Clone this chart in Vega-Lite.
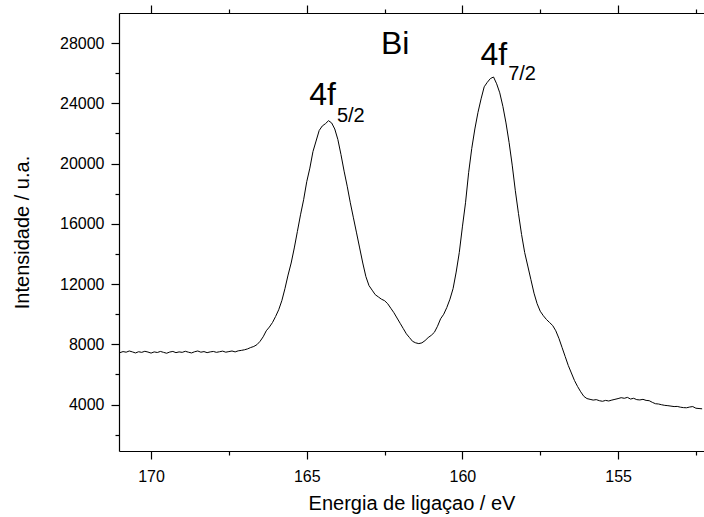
{
  "$schema": "https://vega.github.io/schema/vega-lite/v6.json",
  "width": 585,
  "height": 438,
  "autosize": {"type": "none"},
  "padding": {"left": 119, "top": 13, "right": 0, "bottom": 66},
  "background": "white",
  "config": {
    "view": {"stroke": null},
    "font": "Liberation Sans",
    "axis": {
      "domainColor": "black",
      "domainWidth": 1.2,
      "tickColor": "black",
      "tickWidth": 1.2,
      "grid": false,
      "labelColor": "black",
      "titleColor": "black",
      "labelFont": "Liberation Sans",
      "titleFont": "Liberation Sans",
      "labelFontSize": 16,
      "titleFontSize": 20,
      "titleFontWeight": "normal"
    }
  },
  "datasets": {
    "spectrum": [
      {"e": 171.0, "i": 7450}, {"e": 170.9, "i": 7520}, {"e": 170.8, "i": 7480}, {"e": 170.7, "i": 7560},
      {"e": 170.6, "i": 7500}, {"e": 170.5, "i": 7430}, {"e": 170.4, "i": 7510}, {"e": 170.3, "i": 7470},
      {"e": 170.2, "i": 7540}, {"e": 170.1, "i": 7490}, {"e": 170.0, "i": 7420}, {"e": 169.9, "i": 7500},
      {"e": 169.8, "i": 7460}, {"e": 169.7, "i": 7530}, {"e": 169.6, "i": 7470}, {"e": 169.5, "i": 7410},
      {"e": 169.4, "i": 7490}, {"e": 169.3, "i": 7530}, {"e": 169.2, "i": 7450}, {"e": 169.1, "i": 7500},
      {"e": 169.0, "i": 7470}, {"e": 168.9, "i": 7540}, {"e": 168.8, "i": 7480}, {"e": 168.7, "i": 7430},
      {"e": 168.6, "i": 7510}, {"e": 168.5, "i": 7560}, {"e": 168.4, "i": 7480}, {"e": 168.3, "i": 7520},
      {"e": 168.2, "i": 7450}, {"e": 168.1, "i": 7500}, {"e": 168.0, "i": 7530}, {"e": 167.9, "i": 7470},
      {"e": 167.8, "i": 7510}, {"e": 167.7, "i": 7550}, {"e": 167.6, "i": 7480}, {"e": 167.5, "i": 7520},
      {"e": 167.4, "i": 7560}, {"e": 167.3, "i": 7500}, {"e": 167.2, "i": 7570}, {"e": 167.1, "i": 7600},
      {"e": 167.0, "i": 7640}, {"e": 166.9, "i": 7700}, {"e": 166.8, "i": 7790}, {"e": 166.7, "i": 7860},
      {"e": 166.6, "i": 7980}, {"e": 166.5, "i": 8200}, {"e": 166.4, "i": 8500}, {"e": 166.3, "i": 8900},
      {"e": 166.2, "i": 9150}, {"e": 166.1, "i": 9450}, {"e": 166.0, "i": 9850}, {"e": 165.9, "i": 10300},
      {"e": 165.8, "i": 10900}, {"e": 165.7, "i": 11700}, {"e": 165.6, "i": 12600}, {"e": 165.5, "i": 13400},
      {"e": 165.4, "i": 14400}, {"e": 165.3, "i": 15500}, {"e": 165.2, "i": 16600}, {"e": 165.1, "i": 17600},
      {"e": 165.0, "i": 18800}, {"e": 164.9, "i": 19700}, {"e": 164.8, "i": 20800}, {"e": 164.7, "i": 21500},
      {"e": 164.6, "i": 22200}, {"e": 164.5, "i": 22500}, {"e": 164.4, "i": 22650}, {"e": 164.3, "i": 22850},
      {"e": 164.2, "i": 22700}, {"e": 164.1, "i": 22300}, {"e": 164.0, "i": 21600}, {"e": 163.9, "i": 20600},
      {"e": 163.8, "i": 19500}, {"e": 163.7, "i": 18500}, {"e": 163.6, "i": 17400}, {"e": 163.5, "i": 16400},
      {"e": 163.4, "i": 15400}, {"e": 163.3, "i": 14400}, {"e": 163.2, "i": 13400}, {"e": 163.1, "i": 12500},
      {"e": 163.0, "i": 11900}, {"e": 162.9, "i": 11600}, {"e": 162.8, "i": 11300}, {"e": 162.7, "i": 11150},
      {"e": 162.6, "i": 11000}, {"e": 162.5, "i": 10900}, {"e": 162.4, "i": 10700}, {"e": 162.3, "i": 10400},
      {"e": 162.2, "i": 10100}, {"e": 162.1, "i": 9750}, {"e": 162.0, "i": 9400}, {"e": 161.9, "i": 9050},
      {"e": 161.8, "i": 8700}, {"e": 161.7, "i": 8450}, {"e": 161.6, "i": 8200}, {"e": 161.5, "i": 8100},
      {"e": 161.4, "i": 8050}, {"e": 161.3, "i": 8100}, {"e": 161.2, "i": 8250}, {"e": 161.1, "i": 8450},
      {"e": 161.0, "i": 8600}, {"e": 160.9, "i": 8800}, {"e": 160.8, "i": 9200}, {"e": 160.7, "i": 9700},
      {"e": 160.6, "i": 10000}, {"e": 160.5, "i": 10450}, {"e": 160.4, "i": 11000}, {"e": 160.3, "i": 11700},
      {"e": 160.2, "i": 12800}, {"e": 160.1, "i": 14100}, {"e": 160.0, "i": 15800}, {"e": 159.9, "i": 17400},
      {"e": 159.8, "i": 19400}, {"e": 159.7, "i": 21000}, {"e": 159.6, "i": 22300}, {"e": 159.5, "i": 23400},
      {"e": 159.4, "i": 24300}, {"e": 159.3, "i": 25100}, {"e": 159.2, "i": 25400}, {"e": 159.1, "i": 25650},
      {"e": 159.0, "i": 25750}, {"e": 158.9, "i": 25300}, {"e": 158.8, "i": 24700}, {"e": 158.7, "i": 23800},
      {"e": 158.6, "i": 22700}, {"e": 158.5, "i": 21400}, {"e": 158.4, "i": 19900}, {"e": 158.3, "i": 18200},
      {"e": 158.2, "i": 16700}, {"e": 158.1, "i": 15300}, {"e": 158.0, "i": 14100}, {"e": 157.9, "i": 13200},
      {"e": 157.8, "i": 12300}, {"e": 157.7, "i": 11400}, {"e": 157.6, "i": 10700}, {"e": 157.5, "i": 10200},
      {"e": 157.4, "i": 9900}, {"e": 157.3, "i": 9650}, {"e": 157.2, "i": 9450}, {"e": 157.1, "i": 9250},
      {"e": 157.0, "i": 8900}, {"e": 156.9, "i": 8400}, {"e": 156.8, "i": 7800}, {"e": 156.7, "i": 7200},
      {"e": 156.6, "i": 6600}, {"e": 156.5, "i": 6100}, {"e": 156.4, "i": 5600}, {"e": 156.3, "i": 5200},
      {"e": 156.2, "i": 4850}, {"e": 156.1, "i": 4550}, {"e": 156.0, "i": 4400}, {"e": 155.9, "i": 4350},
      {"e": 155.8, "i": 4300}, {"e": 155.7, "i": 4330}, {"e": 155.6, "i": 4260}, {"e": 155.5, "i": 4220},
      {"e": 155.4, "i": 4280}, {"e": 155.3, "i": 4240}, {"e": 155.2, "i": 4300}, {"e": 155.1, "i": 4350},
      {"e": 155.0, "i": 4400}, {"e": 154.9, "i": 4460}, {"e": 154.8, "i": 4420}, {"e": 154.7, "i": 4480},
      {"e": 154.6, "i": 4370}, {"e": 154.5, "i": 4420}, {"e": 154.4, "i": 4330}, {"e": 154.3, "i": 4310},
      {"e": 154.2, "i": 4350}, {"e": 154.1, "i": 4280}, {"e": 154.0, "i": 4260}, {"e": 153.9, "i": 4150},
      {"e": 153.8, "i": 4060}, {"e": 153.7, "i": 4040}, {"e": 153.6, "i": 3990}, {"e": 153.5, "i": 3950},
      {"e": 153.4, "i": 3930}, {"e": 153.3, "i": 3900}, {"e": 153.2, "i": 3870}, {"e": 153.1, "i": 3880},
      {"e": 153.0, "i": 3830}, {"e": 152.9, "i": 3800}, {"e": 152.8, "i": 3790}, {"e": 152.7, "i": 3840},
      {"e": 152.6, "i": 3870}, {"e": 152.5, "i": 3760}, {"e": 152.4, "i": 3740}, {"e": 152.3, "i": 3720}
    ],
    "labels": [
      {"e": 162.16, "i": 27256, "text": "Bi"}
    ],
    "orbitals": [
      {"e": 164.06, "i": 23867, "text": "4f"},
      {"e": 158.56, "i": 26525, "text": "4f"}
    ],
    "subscripts": [
      {"e": 164.03, "i": 22737, "text": "5/2"},
      {"e": 158.53, "i": 25528, "text": "7/2"}
    ]
  },
  "resolve": {"axis": {"x": "independent", "y": "independent"}},
  "layer": [
    {
      "data": {"name": "spectrum"},
      "mark": {"type": "line", "color": "black", "strokeWidth": 1, "clip": true},
      "encoding": {
        "x": {
          "field": "e", "type": "quantitative",
          "scale": {"domain": [152.24, 171.03], "reverse": true, "nice": false, "zero": false},
          "axis": {
            "orient": "bottom",
            "title": "Energia de ligaçao / eV",
            "values": [170, 167.5, 165, 162.5, 160, 157.5, 155, 152.5],
            "labelExpr": "datum.value % 5 === 0 ? datum.label : ''",
            "format": "d",
            "tickSize": {"condition": {"test": "datum.value % 5 === 0", "value": 8}, "value": 4},
            "labelPadding": 9,
            "titlePadding": 9
          }
        },
        "y": {
          "field": "i", "type": "quantitative",
          "scale": {"domain": [920, 30000], "nice": false, "zero": false},
          "axis": {
            "orient": "left",
            "title": "Intensidade / u.a.",
            "values": [2000, 4000, 6000, 8000, 10000, 12000, 14000, 16000, 18000, 20000, 22000, 24000, 26000, 28000],
            "labelExpr": "datum.value % 4000 === 0 ? datum.label : ''",
            "format": "d",
            "tickSize": {"condition": {"test": "datum.value % 4000 === 0", "value": 8}, "value": 4},
            "labelPadding": 7,
            "titlePadding": 27
          }
        }
      }
    },
    {
      "data": {"name": "spectrum"},
      "mark": {"type": "line", "opacity": 0},
      "encoding": {
        "x": {
          "field": "e", "type": "quantitative",
          "axis": {
            "orient": "top",
            "title": null,
            "labels": false,
            "values": [170, 167.5, 165, 162.5, 160, 157.5, 155, 152.5],
            "tickSize": {"condition": {"test": "datum.value % 5 === 0", "value": 8}, "value": 4}
          }
        },
        "y": {"field": "i", "type": "quantitative", "axis": null}
      }
    },
    {
      "data": {"name": "labels"},
      "mark": {"type": "text", "fontSize": 32, "align": "center", "baseline": "alphabetic", "color": "black", "font": "Liberation Sans"},
      "encoding": {
        "x": {"field": "e", "type": "quantitative", "axis": null},
        "y": {"field": "i", "type": "quantitative", "axis": null},
        "text": {"field": "text"}
      }
    },
    {
      "data": {"name": "orbitals"},
      "mark": {"type": "text", "fontSize": 32, "align": "right", "baseline": "alphabetic", "color": "black", "font": "Liberation Sans"},
      "encoding": {
        "x": {"field": "e", "type": "quantitative", "axis": null},
        "y": {"field": "i", "type": "quantitative", "axis": null},
        "text": {"field": "text"}
      }
    },
    {
      "data": {"name": "subscripts"},
      "mark": {"type": "text", "fontSize": 20, "align": "left", "baseline": "alphabetic", "color": "black", "font": "Liberation Sans"},
      "encoding": {
        "x": {"field": "e", "type": "quantitative", "axis": null},
        "y": {"field": "i", "type": "quantitative", "axis": null},
        "text": {"field": "text"}
      }
    }
  ]
}
